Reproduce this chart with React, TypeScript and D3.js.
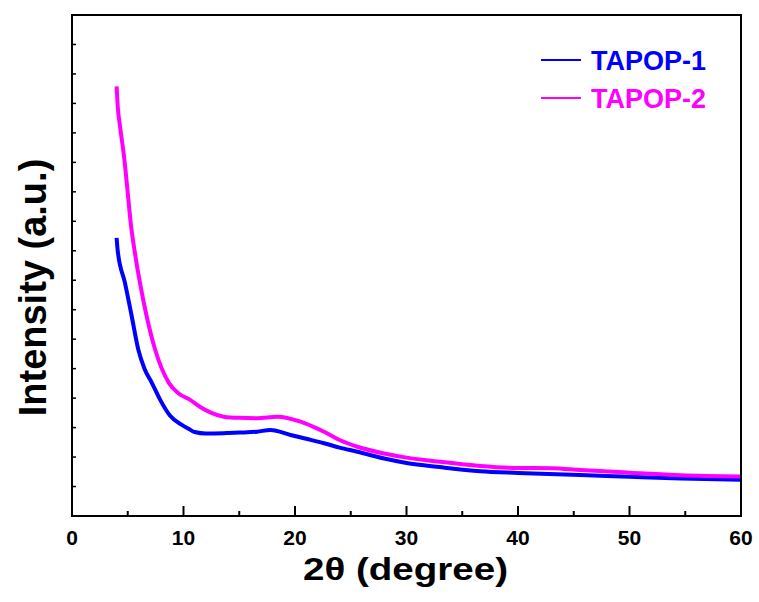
import React from "react";
import * as d3 from "d3";

const xTicksMajor = [0, 10, 20, 30, 40, 50, 60];
const xTicksMinor = [5, 15, 25, 35, 45, 55];
const yTicks = d3.range(1, 17);

const seriesNames = ["TAPOP-1", "TAPOP-2"];
const seriesColors = ["#0000ff", "#ff00ff"];

const tapop1X = [4.0, 4.1, 4.75, 5.36, 5.95, 6.5, 7.16, 7.91, 8.8, 9.85, 10.5, 11, 12, 13.6, 15, 16.6, 17.8, 19.6, 21, 22.6, 24, 25.6, 28, 30, 33, 36.6, 40, 45.6, 50, 54.6, 60];
const tapop1Y = [9.44, 9.0, 7.91, 6.77, 5.64, 5.0, 4.52, 3.94, 3.4, 3.09, 2.95, 2.85, 2.8, 2.81, 2.83, 2.86, 2.92, 2.75, 2.62, 2.47, 2.32, 2.18, 1.95, 1.8, 1.66, 1.52, 1.46, 1.39, 1.33, 1.27, 1.23];

const tapop2X = [4.0, 4.1, 4.31, 4.7, 5.0, 5.3, 5.6, 6.1, 6.7, 7.46, 8.7, 9.6, 10.6, 11.5, 12.5, 13.6, 15, 16.6, 18.4, 20.5, 21.5, 22.6, 24, 25.6, 28, 30, 33, 36.6, 40, 43, 45.6, 50, 54.6, 60];
const tapop2Y = [14.58, 13.9, 13.22, 12.09, 10.96, 9.83, 9.03, 7.9, 6.77, 5.64, 4.51, 4.15, 3.94, 3.7, 3.5, 3.37, 3.33, 3.32, 3.37, 3.2, 3.05, 2.86, 2.58, 2.35, 2.12, 1.98, 1.84, 1.7, 1.63, 1.62, 1.56, 1.47, 1.38, 1.34];

const M = { left: 72, right: 741, top: 15, bottom: 516 };
const FONT = "'Liberation Sans', Arial, Helvetica, sans-serif";

export default function App() {
  const x = d3.scaleLinear().domain([0, 60]).range([M.left, M.right]);
  const y = d3.scaleLinear().domain([0, 17]).range([M.bottom, M.top]);
  const line = d3
    .line<[number, number]>()
    .x((d) => x(d[0]))
    .y((d) => y(d[1]))
    .curve(d3.curveMonotoneX);

  const series = [
    tapop1X.map((v, i) => [v, tapop1Y[i]] as [number, number]),
    tapop2X.map((v, i) => [v, tapop2Y[i]] as [number, number]),
  ];

  return (
    <svg width={759} height={602} style={{ position: "absolute", left: 0, top: 0 }}>
      <rect x={0} y={0} width={759} height={602} fill="#fff" />
      {series.map((s, i) => (
        <path key={i} d={line(s) || ""} fill="none" stroke={seriesColors[i]} strokeWidth={4} strokeLinejoin="round" />
      ))}
      {/* frame */}
      <rect x={M.left} y={M.top} width={M.right - M.left} height={M.bottom - M.top} fill="none" stroke="#000" strokeWidth={2} />
      {/* x ticks */}
      {xTicksMajor.map((t) => (
        <g key={"xm" + t}>
          <line x1={x(t)} x2={x(t)} y1={M.bottom} y2={M.bottom - 10} stroke="#000" strokeWidth={2} />
          <text x={x(t)} y={545} textAnchor="middle" fontFamily={FONT} fontWeight="bold" fontSize={21} fill="#000">
            {t}
          </text>
        </g>
      ))}
      {xTicksMinor.map((t) => (
        <line key={"xn" + t} x1={x(t)} x2={x(t)} y1={M.bottom} y2={M.bottom - 5} stroke="#000" strokeWidth={2} />
      ))}
      {yTicks.map((t) => (
        <line key={"y" + t} x1={M.left} x2={M.left + 4} y1={y(t)} y2={y(t)} stroke="#000" strokeWidth={1.5} />
      ))}
      {/* axis titles */}
      <text x={303} y={580} fontFamily={FONT} fontWeight="bold" fontSize={31} textLength={205} lengthAdjust="spacingAndGlyphs" fill="#000">
        2θ (degree)
      </text>
      <text
        transform="translate(46,287.5) rotate(-90)"
        textAnchor="middle"
        fontFamily={FONT}
        fontWeight="bold"
        fontSize={38}
        fill="#000"
      >
        Intensity (a.u.)
      </text>
      {/* legend */}
      {seriesNames.map((n, i) => (
        <g key={n}>
          <line x1={541} x2={581} y1={60 + i * 38} y2={60 + i * 38} stroke={seriesColors[i]} strokeWidth={2} />
          <text x={591} y={70 + i * 37.5} fontFamily={FONT} fontWeight="bold" fontSize={27} fill={seriesColors[i]}>
            {n}
          </text>
        </g>
      ))}
    </svg>
  );
}
